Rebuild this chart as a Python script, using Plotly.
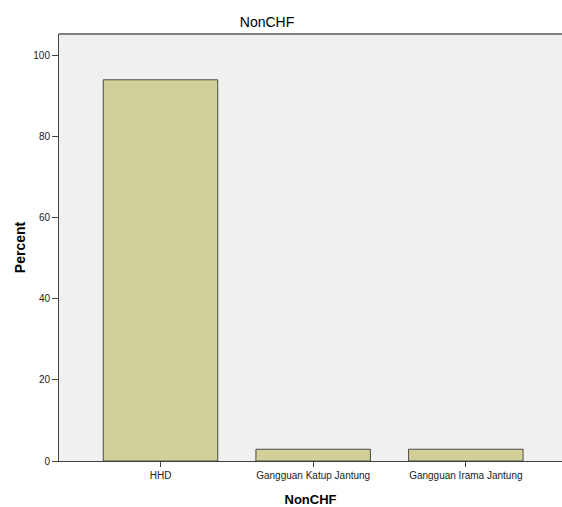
import plotly.graph_objects as go

categories = ["HHD", "Gangguan Katup Jantung", "Gangguan Irama Jantung"]
percent = [94.1, 2.9, 2.9]
y_ticks = [0, 20, 40, 60, 80, 100]

fig = go.Figure()
fig.add_trace(go.Bar(
    x=categories, y=percent, width=0.75,
    marker=dict(color="#d3cf98", line=dict(color="#4a4a4a", width=1)),
    hoverinfo="x+y",
))

fig.update_layout(
    width=562, height=507,
    margin=dict(l=59, r=0, t=34, b=46),
    paper_bgcolor="white", plot_bgcolor="#f0f0f0",
    font=dict(family="Liberation Sans, Arial, sans-serif", color="#000000"),
    title=dict(text="NonCHF", x=267/562, xref="container", xanchor="center",
               y=1 - 22/507, yref="container", yanchor="middle",
               font=dict(size=14, color="#000")),
    showlegend=False,
    bargap=0.25,
)
fig.update_xaxes(
    type="category", range=[-0.665, 2.63], automargin=False,
    showgrid=False, showline=True, linecolor="#404040", linewidth=1,
    ticks="outside", ticklen=5, tickcolor="#404040",
    tickfont=dict(size=10, color="#222"),
    title=dict(text="<b>NonCHF</b>", font=dict(size=13), standoff=15),
    mirror=False,
)
fig.update_yaxes(
    range=[0, 105.4], tickvals=y_ticks, automargin=False,
    showgrid=False, showline=True, linecolor="#404040", linewidth=1,
    ticks="outside", ticklen=6, tickcolor="#404040",
    tickfont=dict(size=10, color="#222"),
    title=dict(text="<b>Percent</b>", font=dict(size=14), standoff=4),
    zeroline=False,
)
# top border of plot area
fig.add_shape(type="line", xref="paper", yref="paper", x0=0, x1=1, y0=1, y1=1,
              line=dict(color="#808080", width=2))

fig.write_html("out.html", config={"displayModeBar": False},
               post_script="document.body.style.margin='0';document.body.style.overflow='hidden';")
